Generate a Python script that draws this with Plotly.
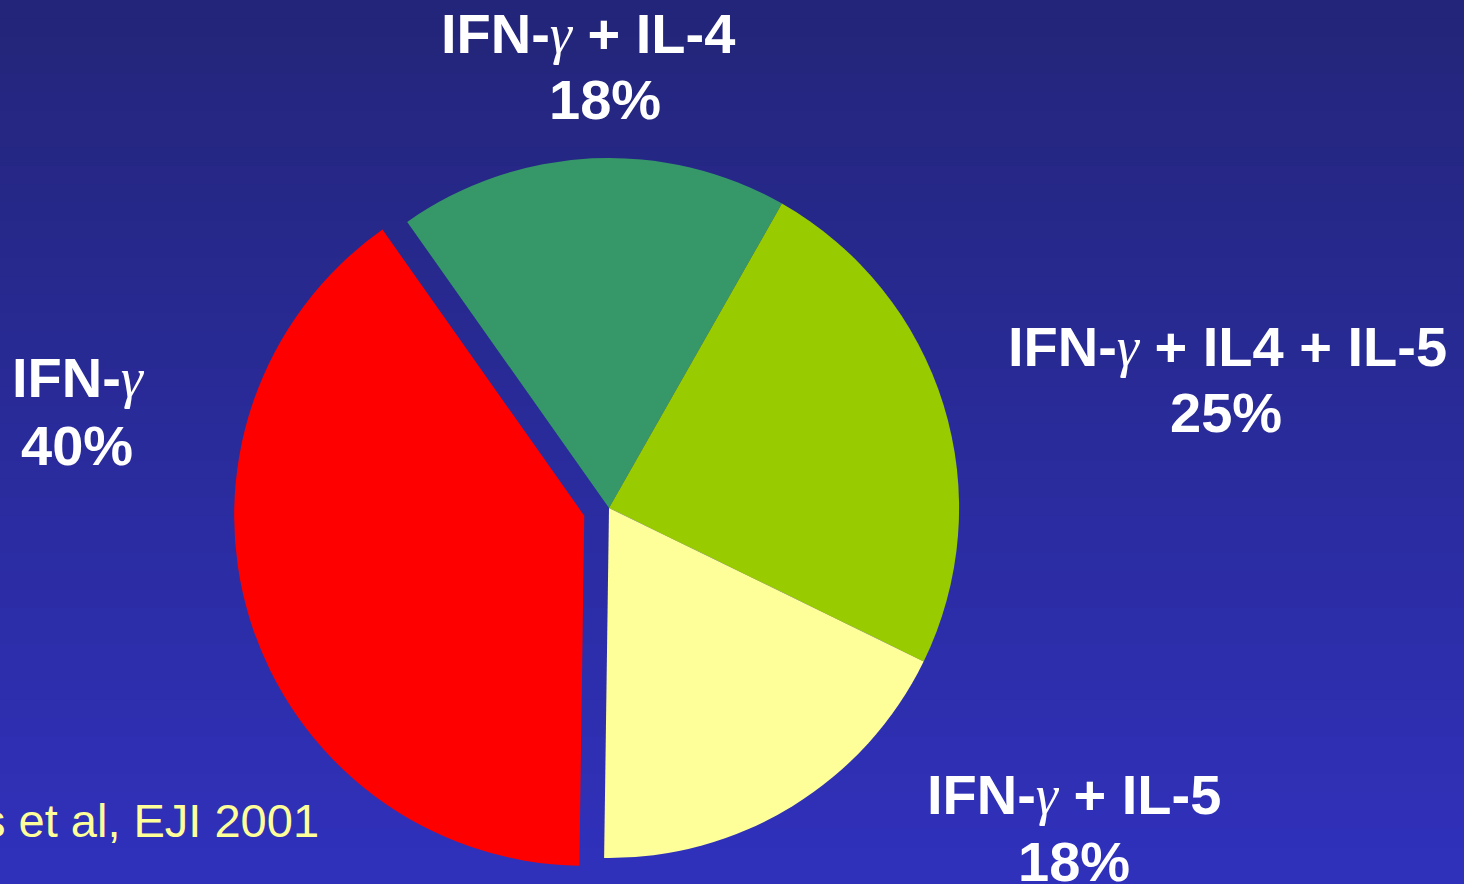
import plotly.graph_objects as go

# slices in clockwise order, starting from the green one
groups = ["IFN-γ + IL-4", "IFN-γ + IL4 + IL-5", "IFN-γ + IL-5", "IFN-γ"]
shares = [18, 24, 18, 40]
pct_labels = ["18%", "25%", "18%", "40%"]
colors = ["#369868", "#99cc00", "#ffff99", "#ff0000"]
pulls = [0, 0, 0, 0.074]

citation = "s et al, EJI 2001"

W, H = 1464, 884
ML, MR, MT, MB = 0, 246, 132, 0
pw, ph = W - ML - MR, H - MT - MB

# label placement in pixels (centre x, cap-middle y) for name line and pct line
name_pos = [(588, 33), (1227, 346), (1074, 794), (78, 377)]
pct_pos = [(605, 100), (1226, 412), (1074, 861), (77, 445)]


def px(x, y):
    return (x - ML) / pw, (H - MB - y) / ph


def greek(s):
    return s.replace(
        "γ",
        '<span style="font-family:Liberation Serif;font-weight:normal;font-style:italic">γ</span>',
    )


fig = go.Figure(
    go.Pie(
        labels=groups,
        values=shares,
        sort=False,
        direction="clockwise",
        rotation=-35.2,
        pull=pulls,
        marker=dict(colors=colors, line=dict(width=0)),
        textinfo="none",
        hoverinfo="label+percent",
        showlegend=False,
    )
)

# vertical gradient background, dark navy at the top to brighter blue at the bottom
top, bot = (35, 37, 121), (48, 49, 188)
n = 48
for i in range(n):
    t = (i + 0.5) / n
    c = tuple(round(top[k] + (bot[k] - top[k]) * t) for k in range(3))
    ya = H * i / n  # pixel from top
    yb = H * (i + 1) / n + 1
    fig.add_shape(
        type="rect",
        xref="paper",
        yref="paper",
        x0=-0.01,
        x1=W / pw + 0.01,
        y0=(H - MB - yb) / ph,
        y1=(H - MB - ya) / ph,
        fillcolor="rgb(%d,%d,%d)" % c,
        line_width=0,
        layer="below",
    )

lab_font = dict(family="Liberation Sans, Arial", size=56, color="white", weight="bold")
for g, p, (nx, ny), (qx, qy) in zip(groups, pct_labels, name_pos, pct_pos):
    x, y = px(nx, ny)
    fig.add_annotation(x=x, y=y, xref="paper", yref="paper", text=greek(g), showarrow=False,
                       xanchor="center", yanchor="middle", font=lab_font)
    x, y = px(qx, qy)
    fig.add_annotation(x=x, y=y, xref="paper", yref="paper", text=p, showarrow=False,
                       xanchor="center", yanchor="middle", font=lab_font)

x, y = px(321, 820)
fig.add_annotation(x=x, y=y, xref="paper", yref="paper", text=citation, showarrow=False,
                   xanchor="right", yanchor="middle",
                   font=dict(family="Liberation Sans, Arial", size=47, color="#ffff99"))

fig.update_layout(
    width=W,
    height=H,
    margin=dict(l=ML, r=MR, t=MT, b=MB, pad=0),
    paper_bgcolor="#2a2b9c",
    plot_bgcolor="rgba(0,0,0,0)",
)

fig.write_html(
    "out.html",
    config={"displayModeBar": False},
    post_script="document.body.style.margin='0';",
)
